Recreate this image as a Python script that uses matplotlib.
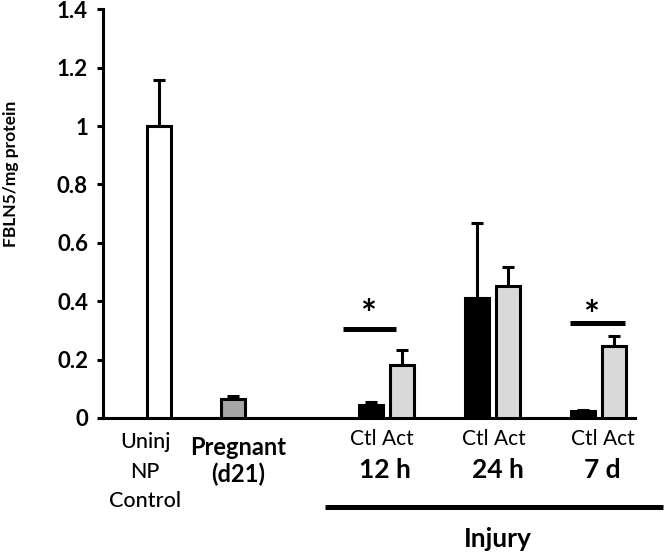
import matplotlib
matplotlib.use('Agg')
import matplotlib.pyplot as plt
from matplotlib.transforms import blended_transform_factory

plt.rcParams['font.family'] = ['Lato', 'DejaVu Sans']

# ---------------- data ----------------
single_labels = ['Uninj\nNP\nControl', 'Pregnant\n(d21)']
single_values = [1.0, 0.065]
single_errors = [0.157, 0.010]
single_colors = ['#ffffff', '#a6a6a6']

timepoints = ['12 h', '24 h', '7 d']
ctl_values = [0.045, 0.410, 0.024]
ctl_errors = [0.010, 0.259, 0.004]
act_values = [0.181, 0.453, 0.247]
act_errors = [0.051, 0.063, 0.034]
subgroup_label = 'Ctl Act'
group_label = 'Injury'
significant = ['12 h', '7 d']

y_ticks = [0, 0.2, 0.4, 0.6, 0.8, 1.0, 1.2, 1.4]
y_tick_labels = ['0', '0.2', '0.4', '0.6', '0.8', '1', '1.2', '1.4']
y_label = 'FBLN5/mg protein'

# ---------------- layout ----------------
W, H = 664, 555
def fy(py):
    return 1 - py / H

single_x = [2.09, 4.87]
group_x = [10.65, 14.64, 18.63]
offset = 0.58
width = 0.9
ctl_color = '#000000'
act_color = '#d9d9d9'
lw = 2.2

fig = plt.figure(figsize=(W / 100, H / 100), dpi=100)
ax = fig.add_axes([103 / W, fy(418), (635 - 103) / W, (418 - 9.3) / H])
ax.set_xlim(0, 20)
ax.set_ylim(0, 1.4)

err_kw = dict(fmt='none', ecolor='black', elinewidth=lw, capsize=4, capthick=lw, zorder=2)

ax.bar(single_x, single_values, width, color=single_colors, edgecolor='black', linewidth=lw, zorder=3)
ax.errorbar(single_x, single_values, yerr=[[0] * len(single_errors), single_errors], **err_kw)

ctl_x = [g - offset for g in group_x]
act_x = [g + offset for g in group_x]
ax.bar(ctl_x, ctl_values, width, color=ctl_color, edgecolor='black', linewidth=lw, zorder=3)
ax.bar(act_x, act_values, width, color=act_color, edgecolor='black', linewidth=lw, zorder=3)
ax.errorbar(ctl_x, ctl_values, yerr=[[0] * 3, ctl_errors], **err_kw)
ax.errorbar(act_x, act_values, yerr=[[0] * 3, act_errors], **err_kw)

# axes styling
for s in ['top', 'right']:
    ax.spines[s].set_visible(False)
for s in ['left', 'bottom']:
    ax.spines[s].set_linewidth(lw)
ax.set_xticks([])
ax.set_yticks(y_ticks)
ax.set_yticklabels(y_tick_labels, fontsize=16, fontweight='bold')
ax.tick_params(axis='y', direction='out', length=4.3, width=lw, pad=6.5)

fig.text(11 / W, fy(174), y_label, rotation=90, ha='center', va='center',
         fontsize=12.5, fontweight='bold')

trans = blended_transform_factory(ax.transData, fig.transFigure)

# single-group labels
label_x = [1.58, 5.07]
label_base = [448, 455]
label_step = [29.5, 27]
label_weight = ['medium', 'bold']
label_size = [15.5, 17]
for lab, x, b, st, wgt, sz in zip(single_labels, label_x, label_base, label_step, label_weight, label_size):
    for i, line in enumerate(lab.split('\n')):
        ax.text(x, fy(b + i * st), line, transform=trans, ha='center', va='baseline',
                fontsize=sz, fontweight=wgt)

# injury group labels
sub_dx = [-0.18, 0.04, 0.17]
time_dx = [-0.05, 0.2, 0.15]
for g, tp, sdx, tdx in zip(group_x, timepoints, sub_dx, time_dx):
    ax.text(g + sdx, fy(445), subgroup_label, transform=trans, ha='center', va='baseline', fontsize=15)
    ax.text(g + tdx, fy(478), tp, transform=trans, ha='center', va='baseline', fontsize=19,
            fontweight='bold')

ax.plot([8.35, 21.05], [fy(507), fy(507)], transform=trans, color='black', lw=3.6,
        clip_on=False, solid_capstyle='butt')
ax.text(14.85, fy(547), group_label, transform=trans, ha='center', va='baseline', fontsize=19,
        fontweight='bold')

# significance marks
sig_lines = {'12 h': (9.02, 11.0, 0.306, 9.95, 0.384), '7 d': (17.56, 19.62, 0.327, 18.35, 0.38)}
for tp in significant:
    x0, x1, yl, xa, ya = sig_lines[tp]
    ax.plot([x0, x1], [yl, yl], color='black', lw=3.6, solid_capstyle='butt', zorder=4)
    ax.text(xa, ya - 0.034, '*', ha='center', va='center', fontsize=27, fontweight='bold', zorder=4)

fig.savefig('out.png', dpi=100)
